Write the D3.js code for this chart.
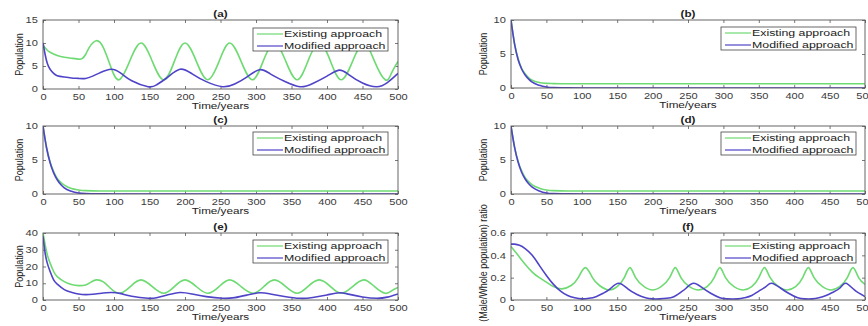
<!DOCTYPE html>
<html>
<head>
<meta charset="utf-8">
<script src="https://cdn.jsdelivr.net/npm/d3@7"></script>
<style>
  body { margin: 0; background: #fff; }
  svg { display: block; font-family: "Liberation Sans", Arial, sans-serif; }
</style>
</head>
<body>
<div id="chart"></div>
<script>
// ---- datos ----
const xTicks = [0, 50, 100, 150, 200, 250, 300, 350, 400, 450, 500];
const seriesNames = ["Existing approach", "Modified approach"];
const titles = ["(a)", "(b)", "(c)", "(d)", "(e)", "(f)"];

// (a)
const aExistingT = [0,5,10,20,30,40,50,55,60,65,75,85,95,107,122,138,154,170,185,200,216,232,248,263,279,295,310,326,342,358,373,389,405,420,436,452,467,482,491,500];
const aExistingV = [9.5,8.6,8,7.3,6.9,6.7,6.5,6.6,7.5,9,10.5,9,5,2,6,10,6,2,6,10,6,2,6,10,6,2,6,10,6,2,6,10,6,2,6,10,6,2,3.5,6];
const aModifiedT = [0,3,6,10,15,20,30,40,50,60,70,80,96,110,125,148,160,175,193,210,230,253,270,287,305,320,340,362,380,400,417,430,450,470,485,500];
const aModifiedV = [10,7.5,5.6,4.3,3.4,2.9,2.6,2.4,2.3,2.3,2.8,3.5,4.3,3.4,1.8,0.5,0.9,2.5,4.3,3.3,1.6,0.5,1.1,2.6,4.2,3.3,1.7,0.5,1.2,2.8,4.1,3.2,1.3,0.5,1.4,3.4];

// (b), (c), (d): decaimiento
const decayT = [0,5,10,15,20,25,30,40,50,60,80,100,500];
const bExistingV = [10,6.5,4.3,2.9,2.1,1.5,1.15,0.8,0.68,0.65,0.62,0.62,0.62];
const bModifiedV = [10,6.5,4.2,2.8,1.9,1.3,0.85,0.4,0.15,0.05,0.02,0.01,0.01];
const cExistingV = [10,6.8,4.7,3.3,2.3,1.7,1.3,0.8,0.6,0.5,0.45,0.45,0.45];
const cModifiedV = [10,6.8,4.6,3.1,2.1,1.4,0.9,0.4,0.15,0.06,0.02,0.01,0.01];
const dExistingV = [10,6.9,4.8,3.4,2.4,1.8,1.35,0.85,0.6,0.5,0.45,0.45,0.45];
const dModifiedV = [10,6.9,4.7,3.2,2.2,1.5,1,0.45,0.15,0.05,0.02,0.01,0.01];

// (e)
const eExistingT = [0,3,6,10,15,20,30,40,50,60,67,75,85,95,108,123,138,154,170,185,200,216,232,248,263,279,296,311,326,342,358,373,389,405,420,436,452,467,482,491,500];
const eExistingV = [40,33,27,22,17,14,11,9.3,8.6,9,10.5,12,10.8,7,4,8,12,8,4,8,12,8,4,8,12,8,4,8,12,8,4,8,12,8,4,8,12,8,4,5.5,7.5];
const eModifiedT = [0,3,6,10,15,20,30,40,50,60,70,80,96,110,125,148,160,175,193,210,230,253,270,287,305,320,340,362,380,400,417,430,450,470,485,500];
const eModifiedV = [38,28,22,17,12,9.5,6.2,4.6,3.6,3.2,3.4,3.9,4.5,3.8,2.2,1,1.4,3,4.5,3.6,2,1,1.4,2.9,4.3,3.6,2.1,1,1.5,3,4.3,3.5,1.8,1,1.7,3.6];

// (f)
const fExistingT = [0,10,20,30,40,50,60,72,85,95,105,115,125,138,150,160,168,176,188,200,212,224,232,240,252,265,277,287,295,303,315,328,340,350,358,366,378,390,402,412,420,428,440,452,464,475,483,491,500];
const fExistingV = [0.48,0.4,0.32,0.25,0.2,0.16,0.12,0.1,0.13,0.2,0.29,0.2,0.13,0.09,0.12,0.2,0.29,0.2,0.12,0.09,0.12,0.2,0.29,0.2,0.12,0.09,0.12,0.2,0.29,0.2,0.12,0.09,0.12,0.2,0.29,0.2,0.12,0.09,0.12,0.2,0.29,0.2,0.12,0.09,0.12,0.2,0.29,0.2,0.14];
const fModifiedT = [0,5,12,20,30,40,50,60,70,80,90,100,110,120,130,140,152,165,178,190,200,210,220,230,240,248,258,270,282,295,305,320,330,340,350,360,368,380,392,405,415,425,435,445,455,465,473,485,500];
const fModifiedV = [0.5,0.5,0.49,0.46,0.4,0.31,0.22,0.14,0.08,0.04,0.02,0.01,0.015,0.03,0.06,0.1,0.15,0.1,0.05,0.02,0.01,0.01,0.015,0.03,0.07,0.11,0.15,0.11,0.06,0.02,0.01,0.01,0.02,0.04,0.08,0.12,0.15,0.11,0.06,0.02,0.01,0.01,0.02,0.04,0.07,0.11,0.15,0.09,0.03];

const zip = (t, v) => t.map((d, i) => [d, v[i]]);

const green = "#6edb72";
const blue = "#4f44c8";
const colors = [green, blue];
const SX = "scale(1.3,1)"; // la figura original esta estirada en horizontal

const oscCurve = d3.curveNatural;
const decCurve = d3.curveMonotoneX;

const panels = [
  { x0: 43,  x1: 398, y0: 20,  y1: 89,  yMax: 15,  yTicks: [0,5,10,15], ylabel: "Population",
    data: [zip(aExistingT, aExistingV), zip(aModifiedT, aModifiedV)], curve: oscCurve, legTop: 28 },
  { x0: 511, x1: 865, y0: 20,  y1: 88,  yMax: 10,  yTicks: [0,5,10], ylabel: "Population",
    data: [zip(decayT, bExistingV), zip(decayT, bModifiedV)], curve: decCurve, legTop: 27 },
  { x0: 43,  x1: 398, y0: 126, y1: 194, yMax: 10,  yTicks: [0,5,10], ylabel: "Population",
    data: [zip(decayT, cExistingV), zip(decayT, cModifiedV)], curve: decCurve, legTop: 132 },
  { x0: 511, x1: 865, y0: 126, y1: 194, yMax: 10,  yTicks: [0,5,10], ylabel: "Population",
    data: [zip(decayT, dExistingV), zip(decayT, dModifiedV)], curve: decCurve, legTop: 132 },
  { x0: 43,  x1: 398, y0: 233, y1: 300, yMax: 40,  yTicks: [0,10,20,30,40], ylabel: "Population",
    data: [zip(eExistingT, eExistingV), zip(eModifiedT, eModifiedV)], curve: oscCurve, legTop: 240 },
  { x0: 511, x1: 865, y0: 233, y1: 300, yMax: 0.6, yTicks: [0,0.2,0.4,0.6], ylabel: "(Male/Whole population) ratio",
    data: [zip(fExistingT, fExistingV), zip(fModifiedT, fModifiedV)], curve: oscCurve, legTop: 240 }
];

const svg = d3.select("#chart").append("svg")
  .attr("width", 868).attr("height", 326);

panels.forEach((p, i) => {
  const x = d3.scaleLinear().domain([0, 500]).range([p.x0, p.x1]);
  const y = d3.scaleLinear().domain([0, p.yMax]).range([p.y1, p.y0]);
  const g = svg.append("g");
  const fmt = d3.format("~g");

  // ejes estilo MATLAB (marcas hacia dentro)
  const bottom = g.append("g").attr("transform", `translate(0,${p.y1})`)
    .call(d3.axisBottom(x).tickValues(xTicks).tickSizeInner(-3).tickSizeOuter(0).tickPadding(5));
  const top = g.append("g").attr("transform", `translate(0,${p.y0})`)
    .call(d3.axisTop(x).tickValues(xTicks).tickSizeInner(-3).tickSizeOuter(0).tickFormat(""));
  const left = g.append("g").attr("transform", `translate(${p.x0},0)`)
    .call(d3.axisLeft(y).tickValues(p.yTicks).tickFormat(fmt).tickSizeInner(-3).tickSizeOuter(0).tickPadding(4));
  const right = g.append("g").attr("transform", `translate(${p.x1},0)`)
    .call(d3.axisRight(y).tickValues(p.yTicks).tickSizeInner(-3).tickSizeOuter(0).tickFormat(""));

  [bottom, top, left, right].forEach(a => {
    a.select(".domain").remove();
    a.selectAll("line").attr("stroke", "#555").attr("stroke-width", 0.8);
    a.selectAll("text").attr("fill", "#3a3a3a").attr("font-size", "8.5px")
      .attr("font-family", "Liberation Sans, Arial, sans-serif").attr("transform", SX);
  });

  // recorte
  const clipId = "clip" + i;
  svg.append("clipPath").attr("id", clipId).append("rect")
    .attr("x", p.x0).attr("y", p.y0).attr("width", p.x1 - p.x0).attr("height", p.y1 - p.y0);

  const line = d3.line().x(d => x(d[0])).y(d => y(d[1])).curve(p.curve);
  p.data.forEach((s, k) => {
    g.append("path").datum(s)
      .attr("clip-path", `url(#${clipId})`)
      .attr("fill", "none").attr("stroke", colors[k]).attr("stroke-width", 1.6)
      .attr("stroke-linejoin", "round")
      .attr("d", line);
  });

  // caja
  g.append("rect").attr("x", p.x0).attr("y", p.y0)
    .attr("width", p.x1 - p.x0).attr("height", p.y1 - p.y0)
    .attr("fill", "none").attr("stroke", "#555").attr("stroke-width", 0.9);

  // titulo
  const cx = (p.x0 + p.x1) / 2;
  g.append("text").attr("transform", `translate(${cx},${p.y0 - 3}) ${SX}`)
    .attr("text-anchor", "middle").attr("font-size", "9px").attr("font-weight", "bold")
    .attr("fill", "#222").text(titles[i]);

  // eje x
  g.append("text").attr("transform", `translate(${cx},${p.y1 + 20}) ${SX}`)
    .attr("text-anchor", "middle").attr("font-size", "9px").attr("fill", "#222")
    .text("Time/years");

  // eje y
  const lx = p.x0 > 400 ? p.x0 - 24 : p.x0 - 20;
  const ly0 = i === 5 ? 263 : (p.y0 + p.y1) / 2;
  g.append("text")
    .attr("transform", `translate(${lx},${ly0}) ${SX} rotate(-90)`)
    .attr("text-anchor", "middle").attr("font-size", "9px").attr("fill", "#222")
    .text(p.ylabel);

  // leyenda
  const lw = 135, lh = 23;
  const bx = p.x1 - lw - 10 + (p.x0 > 400 ? 1 : 0);
  const leg = g.append("g");
  leg.append("rect").attr("x", bx).attr("y", p.legTop).attr("width", lw).attr("height", lh)
    .attr("fill", "#fff").attr("stroke", "#444").attr("stroke-width", 0.8);
  seriesNames.forEach((name, k) => {
    const ly = p.legTop + 6 + k * 12;
    leg.append("line").attr("x1", bx + 4).attr("x2", bx + 30).attr("y1", ly).attr("y2", ly)
      .attr("stroke", colors[k]).attr("stroke-width", 1.2);
    leg.append("text").attr("transform", `translate(${bx + 31},${ly + 3.3}) ${SX}`)
      .attr("font-size", "9.5px").attr("fill", "#222").text(name);
  });
});
</script>
</body>
</html>
